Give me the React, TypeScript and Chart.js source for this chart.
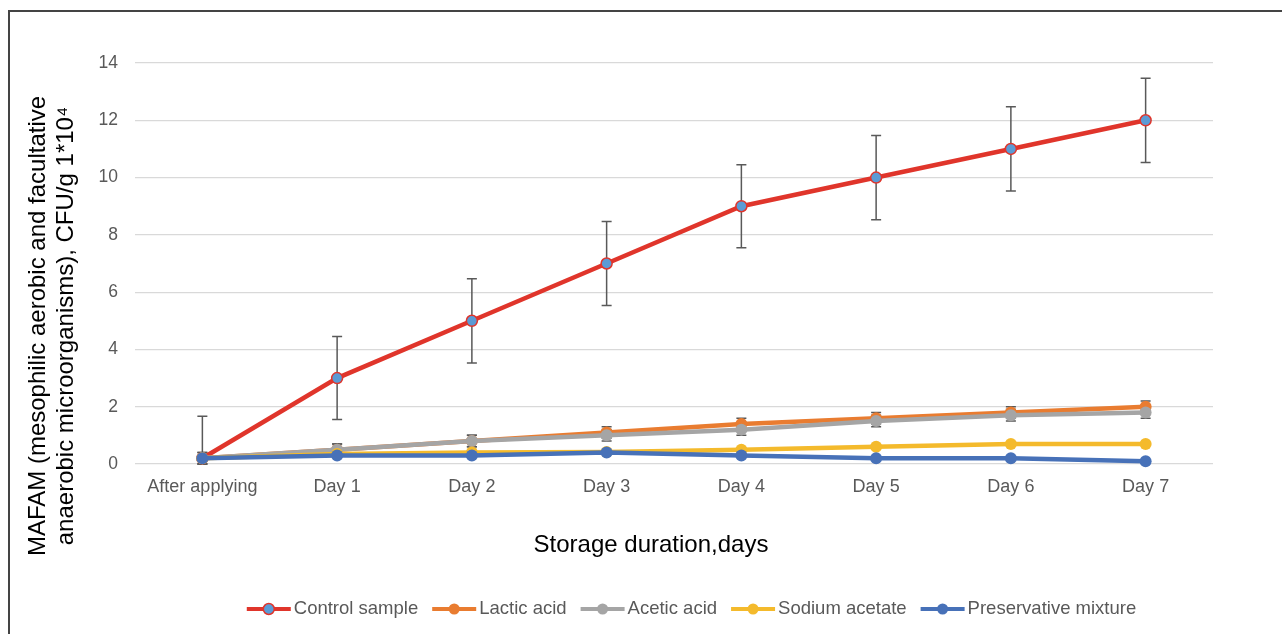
import React, { useEffect, useRef } from 'react';
import { Chart, registerables } from 'chart.js';

Chart.register(...registerables);

const categories = ['After applying', 'Day 1', 'Day 2', 'Day 3', 'Day 4', 'Day 5', 'Day 6', 'Day 7'];
const yTicks = [0, 2, 4, 6, 8, 10, 12, 14];

const controlSample = [0.2, 3, 5, 7, 9, 10, 11, 12];
const controlErr = [1.47, 1.45, 1.47, 1.47, 1.45, 1.47, 1.47, 1.47];
const lacticAcid = [0.2, 0.5, 0.8, 1.1, 1.4, 1.6, 1.8, 2.0];
const lacticErr = [0.2, 0.2, 0.2, 0.2, 0.2, 0.2, 0.2, 0.2];
const aceticAcid = [0.2, 0.5, 0.8, 1.0, 1.2, 1.5, 1.7, 1.8];
const aceticErr = [0.2, 0.2, 0.2, 0.2, 0.2, 0.2, 0.2, 0.2];
const sodiumAcetate = [0.2, 0.35, 0.4, 0.42, 0.5, 0.6, 0.7, 0.7];
const preservativeMixture = [0.2, 0.3, 0.3, 0.4, 0.3, 0.2, 0.2, 0.1];

const seriesNames = ['Control sample', 'Lactic acid', 'Acetic acid', 'Sodium acetate', 'Preservative mixture'];

const yTitleLines = ['MAFAM (mesophilic aerobic and facultative', 'anaerobic microorganisms), CFU/g 1*10\u2074'];
const xTitle = 'Storage duration,days';

const FONT = '"Liberation Sans", Arial, Helvetica, sans-serif';

const RED = '#E0352B';
const MARKER_BLUE = '#5B9BD5';
const ORANGE = '#E97C30';
const GREY = '#A5A5A5';
const YELLOW = '#F4BA2C';
const BLUE = '#4771B8';

export default function App() {
  const ref = useRef<HTMLCanvasElement>(null);

  useEffect(() => {
    const canvas = ref.current;
    if (!canvas) return;

    const errorSets: Record<number, number[]> = { 0: controlErr, 1: lacticErr, 2: aceticErr };

    const errorBars = {
      id: 'errorBars',
      beforeDatasetsDraw(chart: any) {
        const ctx = chart.ctx;
        const y = chart.scales.y;
        ctx.save();
        ctx.strokeStyle = '#595959';
        ctx.lineWidth = 1.5;
        Object.keys(errorSets).forEach((k) => {
          const di = Number(k);
          const errs = errorSets[di];
          const meta = chart.getDatasetMeta(di);
          const vals = chart.data.datasets[di].data as number[];
          meta.data.forEach((pt: any, i: number) => {
            const v = vals[i];
            const e = errs[i];
            const hi = y.getPixelForValue(Math.min(y.max, v + e));
            const lo = y.getPixelForValue(Math.max(y.min, v - e));
            const x = pt.x;
            ctx.beginPath();
            ctx.moveTo(x, hi);
            ctx.lineTo(x, lo);
            ctx.moveTo(x - 5, hi);
            ctx.lineTo(x + 5, hi);
            ctx.moveTo(x - 5, lo);
            ctx.lineTo(x + 5, lo);
            ctx.stroke();
          });
        });
        ctx.restore();
      },
    };

    const extras = {
      id: 'extras',
      afterDraw(chart: any) {
        const ctx = chart.ctx;
        ctx.save();
        // Y axis title
        ctx.fillStyle = '#000000';
        ctx.font = `24px ${FONT}`;
        ctx.textAlign = 'center';
        ctx.textBaseline = 'middle';
        ctx.save();
        ctx.translate(38, 326);
        ctx.rotate(-Math.PI / 2);
        ctx.fillText(yTitleLines[0], 0, 0);
        ctx.fillText(yTitleLines[1], 0, 28);
        ctx.restore();
        // X axis title
        ctx.fillText(xTitle, 651, 545);

        // Legend
        const colors = [RED, ORANGE, GREY, YELLOW, BLUE];
        const fills = [MARKER_BLUE, ORANGE, GREY, YELLOW, BLUE];
        ctx.font = `18.5px ${FONT}`;
        const symW = 44;
        const gapSymText = 3;
        const gapItems = 14;
        const widths = seriesNames.map((n) => ctx.measureText(n).width);
        const total = widths.reduce((a, w) => a + symW + gapSymText + w, 0) + gapItems * (seriesNames.length - 1);
        let x = 691.5 - total / 2;
        const cy = 609;
        seriesNames.forEach((n, i) => {
          ctx.strokeStyle = colors[i];
          ctx.lineWidth = 4;
          ctx.beginPath();
          ctx.moveTo(x, cy);
          ctx.lineTo(x + symW, cy);
          ctx.stroke();
          ctx.beginPath();
          ctx.arc(x + symW / 2, cy, 5.5, 0, Math.PI * 2);
          ctx.fillStyle = fills[i];
          ctx.fill();
          if (i === 0) {
            ctx.lineWidth = 1.5;
            ctx.strokeStyle = RED;
            ctx.stroke();
          }
          ctx.fillStyle = '#595959';
          ctx.textAlign = 'left';
          ctx.textBaseline = 'middle';
          ctx.fillText(n, x + symW + gapSymText, cy);
          x += symW + gapSymText + widths[i] + gapItems;
        });
        ctx.restore();
      },
    };

    const mk = (label: string, data: number[], color: string, fill: string, order: number) => ({
      label,
      data,
      borderColor: color,
      backgroundColor: fill,
      borderWidth: 4.5,
      pointRadius: 6,
      pointBorderWidth: 0,
      pointBorderColor: fill,
      pointBackgroundColor: fill,
      tension: 0,
      clip: false as any,
      order,
    });

    const control = mk(seriesNames[0], controlSample, RED, MARKER_BLUE, 5);
    (control as any).pointBorderColor = RED;
    (control as any).pointBorderWidth = 1.5;
    (control as any).pointRadius = 5.5;

    const chart = new Chart(canvas, {
      type: 'line',
      data: {
        labels: categories,
        datasets: [
          control,
          mk(seriesNames[1], lacticAcid, ORANGE, ORANGE, 4),
          mk(seriesNames[2], aceticAcid, GREY, GREY, 3),
          mk(seriesNames[3], sodiumAcetate, YELLOW, YELLOW, 2),
          mk(seriesNames[4], preservativeMixture, BLUE, BLUE, 1),
        ],
      },
      options: {
        responsive: false,
        animation: false,
        devicePixelRatio: 1,
        layout: { padding: { top: 63, right: 69, left: 0, bottom: 0 } },
        plugins: {
          legend: { display: false },
          tooltip: { enabled: false },
        },
        scales: {
          x: {
            offset: true,
            grid: { display: false, drawTicks: false },
            border: { display: false },
            ticks: { color: '#595959', font: { size: 18, family: FONT }, padding: 12, maxRotation: 0, autoSkip: false },
            afterFit(scale: any) {
              scale.height = 170;
            },
          },
          y: {
            min: 0,
            max: 14,
            afterBuildTicks(scale: any) {
              scale.ticks = yTicks.map((v) => ({ value: v }));
            },
            grid: { color: '#D9D9D9', lineWidth: 1.2, drawTicks: false },
            border: { display: false },
            ticks: { color: '#595959', font: { size: 17.5, family: FONT }, padding: 17 },
            afterFit(scale: any) {
              scale.width = 135;
            },
          },
        },
      },
      plugins: [errorBars, extras],
    });

    return () => chart.destroy();
  }, []);

  return (
    <>
      <div
        style={{
          position: 'fixed',
          left: 8,
          top: 10,
          width: 1300,
          height: 700,
          border: '2px solid #444',
          boxSizing: 'border-box',
          background: '#fff',
        }}
      />
      <canvas ref={ref} width={1282} height={634} style={{ position: 'fixed', left: 0, top: 0, width: 1282, height: 634 }} />
    </>
  );
}
